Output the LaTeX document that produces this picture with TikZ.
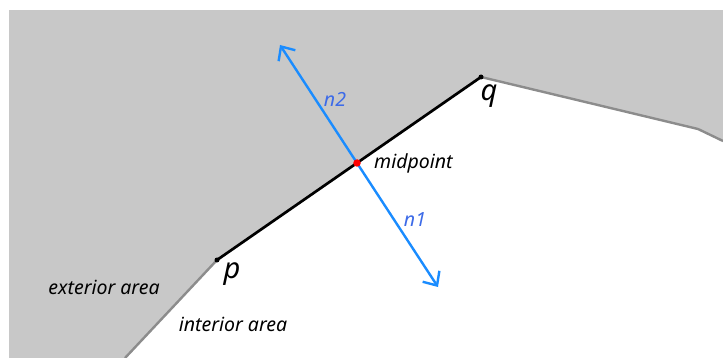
\documentclass[tikz,border=0pt]{standalone}
\usepackage{fontspec}
\setmainfont{Noto Sans}
\usepackage{xcolor}
\usetikzlibrary{arrows.meta,positioning}
\definecolor{areagray}{HTML}{C8C8C8}
\definecolor{edgegray}{HTML}{8C8C8C}
\definecolor{normalblue}{HTML}{1A8CFF}
\definecolor{labelblue}{HTML}{3D6BE8}

\begin{document}
\begin{tikzpicture}[x=1pt,y=-1pt,
lbl/.style={font=\itshape\fontsize{19.5}{23}\selectfont,inner sep=1pt},
vtx/.style={font=\itshape\fontsize{29}{34}\selectfont,inner sep=1pt},
nlbl/.style={font=\itshape\fontsize{19.5}{23}\selectfont,text=labelblue,inner sep=1pt},
normal/.style={-{Straight Barb[length=11pt,width=20pt]},normalblue,line width=2.4pt},
dot/.style={circle,fill,inner sep=0pt,minimum size=5pt}]
\useasboundingbox (0,0) rectangle (723,358);
\fill[white] (0,0) rectangle (723,358);
\fill[areagray] (9,10) rectangle (723,358);
% interior polygon
\fill[white] (125,358) -- (217,260) -- (481,77) -- (698,129) -- (723,141) -- (723,358) -- cycle;
\draw[edgegray,line width=2.4pt] (125,358) -- (217,260);
\draw[edgegray,line width=2.4pt] (481,77) -- (698,129) -- (723,141);
\coordinate (p) at (217,260);
\coordinate (q) at (481,77);
\coordinate (mid) at (357,163);
\coordinate (n1tip) at (438,287);
\coordinate (n2tip) at (280,45);
\draw[black,line width=2.7pt] (p) -- (q);
\draw[normal] (mid) -- (n1tip);
\draw[normal] (mid) -- (n2tip);
\node[dot,black] at (p) {};
\node[dot,black] at (q) {};
\node[dot,red,minimum size=7.5pt] (middot) at (mid) {};
\node[vtx] (plbl) at (232,274) {p};
\node[vtx] (qlbl) at (489,96) {q};
\node[lbl,anchor=west] (midlbl) at (373,163) {midpoint};
\node[nlbl] (n1lbl) at (415,220) {n1};
\node[nlbl] (n2lbl) at (335,99) {n2};
\node[lbl] (ext) at (104,287) {exterior area};
\node[lbl] (int) at (233,324) {interior area};
\end{tikzpicture}
\end{document}
